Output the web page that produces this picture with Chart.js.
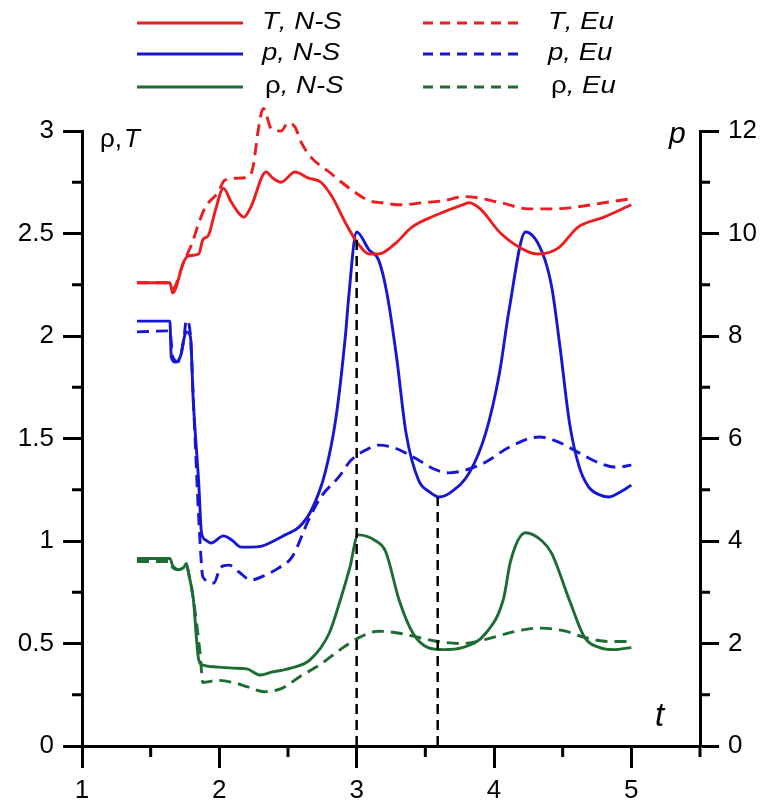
<!DOCTYPE html>
<html><head><meta charset="utf-8">
<script src="https://cdn.jsdelivr.net/npm/chart.js@4"></script>
<style>html,body{margin:0;padding:0;background:#fff}</style>
</head><body>
<canvas id="c" width="767" height="808"></canvas>
<script>
// ---- data (t = time) ----
const T_NS_t = [1.40,1.64,1.66,1.74,1.77,1.85,1.88,1.92,1.97,2.03,2.09,2.18,2.23,2.34,2.39,2.45,2.55,2.65,2.74,2.82,2.92,3.01,3.09,3.16,3.28,3.40,3.58,3.77,3.82,3.90,4.05,4.25,4.32,4.47,4.61,4.80,5.00];
const T_NS_v = [2.26,2.26,2.21,2.36,2.39,2.40,2.47,2.49,2.61,2.72,2.65,2.58,2.63,2.80,2.77,2.75,2.80,2.77,2.75,2.68,2.55,2.45,2.40,2.40,2.45,2.53,2.59,2.64,2.65,2.62,2.50,2.41,2.40,2.43,2.53,2.58,2.64];

const T_Eu_t = [1.40,1.64,1.66,1.74,1.80,1.85,1.90,1.99,2.04,2.14,2.22,2.25,2.28,2.32,2.38,2.45,2.50,2.55,2.60,2.67,2.80,2.89,2.99,3.09,3.18,3.33,3.48,3.63,3.79,4.05,4.25,4.42,4.61,4.80,5.00];
const T_Eu_v = [2.26,2.26,2.23,2.36,2.45,2.55,2.63,2.70,2.76,2.77,2.78,2.84,2.99,3.11,3.01,3.00,3.04,3.02,2.94,2.87,2.80,2.75,2.70,2.66,2.65,2.64,2.65,2.66,2.68,2.65,2.62,2.62,2.63,2.65,2.67];

const p_NS_t = [1.40,1.64,1.65,1.68,1.72,1.74,1.76,1.79,1.81,1.85,1.87,1.90,1.94,2.03,2.09,2.16,2.23,2.31,2.38,2.48,2.58,2.67,2.77,2.85,2.92,2.94,3.00,3.09,3.16,3.22,3.29,3.36,3.45,3.53,3.60,3.69,3.82,3.94,4.04,4.11,4.23,4.35,4.42,4.48,4.55,4.62,4.69,4.77,4.84,4.91,5.00];
const p_NS_v = [8.29,8.29,7.59,7.49,7.63,7.92,8.08,7.98,6.75,5.13,4.16,4.02,3.96,4.10,4.02,3.88,3.88,3.90,3.98,4.12,4.27,4.60,5.33,6.42,8.06,8.70,10.03,9.68,9.48,8.84,7.60,6.10,5.19,4.96,4.86,4.96,5.33,6.11,7.28,8.51,10.03,9.64,8.96,7.80,6.30,5.45,5.05,4.90,4.86,4.94,5.09];

const p_Eu_t = [1.40,1.64,1.66,1.70,1.74,1.76,1.79,1.81,1.86,1.88,1.96,2.01,2.07,2.14,2.23,2.34,2.43,2.53,2.65,2.74,2.87,2.96,3.07,3.16,3.26,3.31,3.45,3.55,3.67,3.80,3.94,4.11,4.33,4.47,4.62,4.77,4.89,5.00];
const p_Eu_v = [8.08,8.10,7.60,7.50,7.90,8.31,8.00,6.80,3.96,3.30,3.18,3.49,3.53,3.40,3.24,3.34,3.47,3.69,4.41,4.86,5.25,5.58,5.78,5.87,5.83,5.78,5.58,5.42,5.33,5.39,5.54,5.83,6.03,5.93,5.72,5.52,5.44,5.48];

const rho_NS_t = [1.40,1.64,1.66,1.70,1.74,1.76,1.78,1.81,1.85,1.88,1.99,2.10,2.20,2.30,2.38,2.52,2.66,2.80,2.88,2.95,3.01,3.14,3.21,3.31,3.41,3.52,3.63,3.77,3.94,4.07,4.12,4.23,4.35,4.42,4.55,4.66,4.77,4.87,5.00];
const rho_NS_v = [0.915,0.915,0.88,0.86,0.87,0.89,0.83,0.72,0.42,0.395,0.385,0.38,0.376,0.346,0.36,0.38,0.42,0.55,0.71,0.87,1.03,1.00,0.95,0.71,0.55,0.48,0.47,0.48,0.55,0.72,0.90,1.04,1.00,0.94,0.71,0.53,0.48,0.47,0.48];

const rho_Eu_t = [1.40,1.64,1.66,1.70,1.74,1.76,1.78,1.81,1.86,1.88,1.99,2.10,2.20,2.33,2.45,2.59,2.74,2.88,3.02,3.16,3.31,3.45,3.59,3.77,3.94,4.16,4.33,4.52,4.66,4.83,5.00];
const rho_Eu_v = [0.90,0.90,0.87,0.86,0.87,0.88,0.83,0.72,0.45,0.31,0.32,0.31,0.29,0.265,0.28,0.34,0.40,0.47,0.53,0.56,0.55,0.53,0.51,0.50,0.52,0.56,0.575,0.56,0.53,0.51,0.51];

// vertical reference lines (t, top value on left axis)
const refLine1_t = [3.00, 3.00];
const refLine1_v = [0, 2.50];
const refLine2_t = [3.59, 3.59];
const refLine2_v = [0, 1.215];

// tick labels
const xTickLabels = [1, 2, 3, 4, 5];
const leftTickLabels = [0, 0.5, 1, 1.5, 2, 2.5, 3];
const rightTickLabels = [0, 2, 4, 6, 8, 10, 12];

// legend labels
const legendLabels = ['T, N-S', 'p, N-S', 'ρ, N-S', 'T, Eu', 'p, Eu', 'ρ, Eu'];

const RED = '#ec1c1f', BLUE = '#1717d2', GREEN = '#1d6c34';
const pts = (ts, vs) => ts.map((t, i) => ({x: t, y: vs[i]}));
const DASH = [12, 7];

const base = {pointRadius: 0, borderWidth: 2.9, fill: false, cubicInterpolationMode: 'monotone'};

const datasets = [
  Object.assign({}, base, {label: 'ref1', data: pts(refLine1_t, refLine1_v), borderColor: '#000', borderDash: [10, 6], borderWidth: 2.5, yAxisID: 'y', cubicInterpolationMode: 'default', tension: 0}),
  Object.assign({}, base, {label: 'ref2', data: pts(refLine2_t, refLine2_v), borderColor: '#000', borderDash: [10, 6], borderWidth: 2.5, yAxisID: 'y', cubicInterpolationMode: 'default', tension: 0}),
  Object.assign({}, base, {label: legendLabels[0], data: pts(T_NS_t, T_NS_v), borderColor: RED, yAxisID: 'y'}),
  Object.assign({}, base, {label: legendLabels[1], data: pts(p_NS_t, p_NS_v), borderColor: BLUE, yAxisID: 'y1'}),
  Object.assign({}, base, {label: legendLabels[2], data: pts(rho_NS_t, rho_NS_v), borderColor: GREEN, yAxisID: 'y'}),
  Object.assign({}, base, {label: legendLabels[3], data: pts(T_Eu_t, T_Eu_v), borderColor: RED, borderDash: DASH, yAxisID: 'y', clip: false}),
  Object.assign({}, base, {label: legendLabels[4], data: pts(p_Eu_t, p_Eu_v), borderColor: BLUE, borderDash: DASH, yAxisID: 'y1'}),
  Object.assign({}, base, {label: legendLabels[5], data: pts(rho_Eu_t, rho_Eu_v), borderColor: GREEN, borderDash: DASH, yAxisID: 'y'})
];

const FONT = '"Liberation Sans", Arial, sans-serif';
const tickFont = {family: '"Liberation Sans", Arial, sans-serif', size: 26};

const decor = {
  id: 'decor',
  afterDraw(chart) {
    const ctx = chart.ctx;
    const xs = chart.scales.x, ys = chart.scales.y, y1 = chart.scales.y1;
    ctx.save();
    ctx.strokeStyle = '#000';
    ctx.lineWidth = 3;
    ctx.lineCap = 'butt';
    // minor ticks
    ctx.beginPath();
    [1.5, 2.5, 3.5, 4.5, 5.5].forEach(v => {
      const px = xs.getPixelForValue(v);
      ctx.moveTo(px, xs.top); ctx.lineTo(px, xs.top + 11);
    });
    [0.25, 0.75, 1.25, 1.75, 2.25, 2.75].forEach(v => {
      const py = ys.getPixelForValue(v);
      ctx.moveTo(ys.right, py); ctx.lineTo(ys.right - 10, py);
    });
    [1, 3, 5, 7, 9, 11].forEach(v => {
      const py = y1.getPixelForValue(v);
      ctx.moveTo(y1.left, py); ctx.lineTo(y1.left + 10, py);
    });
    ctx.stroke();

    // axis titles
    ctx.fillStyle = '#000';
    ctx.textBaseline = 'alphabetic';
    ctx.textAlign = 'left';
    ctx.font = '26px ' + FONT;
    let x = 100;
    ctx.fillText('ρ,', x, 147);
    x += ctx.measureText('ρ,').width;
    ctx.font = 'italic 26px ' + FONT;
    ctx.fillText('T', x + 2, 147);
    ctx.font = 'italic 30px ' + FONT;
    ctx.fillText('p', 669, 143);
    ctx.font = 'italic 33px ' + FONT;
    ctx.fillText('t', 655, 726);

    // legend
    const rows = [23, 54, 87];
    const cols = [{x0: 137, x1: 243, tx: 262, dash: []}, {x0: 423, x1: 518, tx: 548, dash: [10, 7]}];
    const items = [
      {ds: 2, c: 0, r: 0, sym: 'T', it: true},
      {ds: 3, c: 0, r: 1, sym: 'p', it: true},
      {ds: 4, c: 0, r: 2, sym: 'ρ', it: false},
      {ds: 5, c: 1, r: 0, sym: 'T', it: true},
      {ds: 6, c: 1, r: 1, sym: 'p', it: true},
      {ds: 7, c: 1, r: 2, sym: 'ρ', it: false}
    ];
    const SX = 1.2;
    items.forEach(o => {
      const d = chart.data.datasets[o.ds];
      const col = cols[o.c], y = rows[o.r];
      ctx.strokeStyle = d.borderColor;
      ctx.lineWidth = 3;
      ctx.setLineDash(col.dash);
      ctx.beginPath(); ctx.moveTo(col.x0, y); ctx.lineTo(col.x1, y); ctx.stroke();
      ctx.setLineDash([]);
      ctx.fillStyle = '#000';
      ctx.textBaseline = 'middle';
      const rest = d.label.slice(o.sym.length);
      ctx.save();
      ctx.translate(col.tx + (o.it ? 0 : 3), y);
      ctx.scale(SX, 1);
      ctx.font = (o.it ? 'italic ' : '') + '23px ' + FONT;
      ctx.fillText(o.sym, 0, 0);
      const w = ctx.measureText(o.sym).width;
      ctx.font = 'italic 23px ' + FONT;
      ctx.fillText(rest, w, 0);
      ctx.restore();
    });
    ctx.restore();
  }
};

new Chart(document.getElementById('c'), {
  type: 'line',
  data: {datasets},
  options: {
    responsive: false,
    animation: false,
    devicePixelRatio: 1,
    layout: {padding: {top: 131, left: 0, right: 0, bottom: 0}},
    plugins: {legend: {display: false}, tooltip: {enabled: false}},
    scales: {
      x: {
        type: 'linear', position: 'bottom', min: 1, max: 5.5,
        border: {display: true, color: '#000', width: 3},
        grid: {drawOnChartArea: false, drawTicks: true, tickLength: 22, tickWidth: 3, tickColor: '#000'},
        ticks: {stepSize: 1, padding: 7, color: '#000', font: tickFont, maxRotation: 0, autoSkip: false,
          callback: v => xTickLabels.includes(v) ? String(v) : null},
        afterFit: s => { s.height = 62; }
      },
      y: {
        type: 'linear', position: 'left', min: 0, max: 3,
        border: {display: true, color: '#000', width: 3},
        grid: {drawOnChartArea: false, drawTicks: true, tickLength: 19, tickWidth: 3, tickColor: '#000'},
        ticks: {stepSize: 0.5, padding: 9, color: '#000', font: tickFont, autoSkip: false,
          callback: v => leftTickLabels.includes(v) ? String(v) : null},
        afterFit: s => { s.width = 82; }
      },
      y1: {
        type: 'linear', position: 'right', min: 0, max: 12,
        border: {display: true, color: '#000', width: 3},
        grid: {drawOnChartArea: false, drawTicks: true, tickLength: 19, tickWidth: 3, tickColor: '#000'},
        ticks: {stepSize: 2, padding: 9, color: '#000', font: tickFont, autoSkip: false,
          callback: v => rightTickLabels.includes(v) ? String(v) : null},
        afterFit: s => { s.width = 67; }
      }
    }
  },
  plugins: [decor]
});
</script>
</body></html>
